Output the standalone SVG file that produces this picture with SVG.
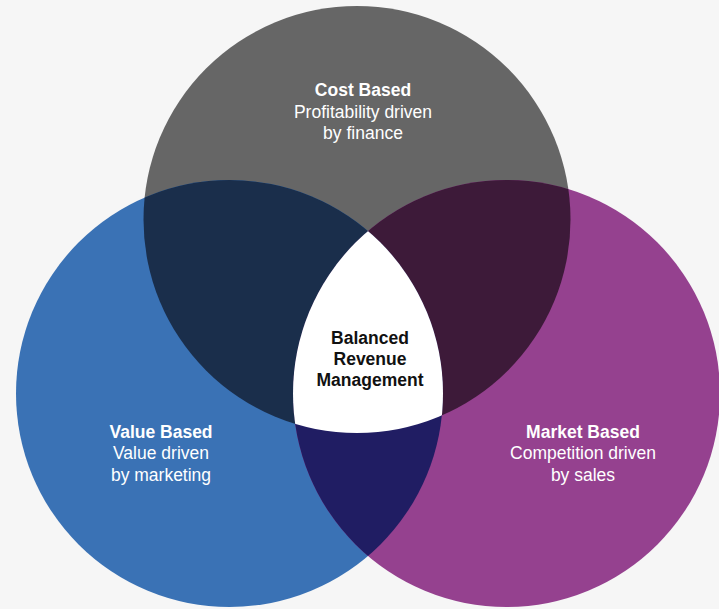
<svg xmlns="http://www.w3.org/2000/svg" width="719" height="609" viewBox="0 0 719 609">
  <defs>
    <clipPath id="clip-top"><circle cx="357" cy="219.5" r="213.5"/></clipPath>
    <clipPath id="clip-left"><circle cx="229.5" cy="393.5" r="213.5"/></clipPath>
    <clipPath id="clip-right"><circle cx="506.5" cy="393.5" r="213.5"/></clipPath>
    <style>
      .lbl { font-family: "Liberation Sans", Arial, Helvetica, sans-serif; font-size: 17.5px; text-anchor: middle; fill: #ffffff; }
      .title { font-weight: bold; }
      .centre { fill: #111111; font-weight: bold; }
    </style>
  </defs>

  <rect width="719" height="609" fill="#f6f6f6"/>

  <!-- Three main sets -->
  <g id="cost-based">
    <circle cx="357" cy="219.5" r="213.5" fill="#666666"/>
  </g>
  <g id="value-based">
    <circle cx="229.5" cy="393.5" r="213.5" fill="#3a72b5"/>
  </g>
  <g id="market-based">
    <circle cx="506.5" cy="393.5" r="213.5" fill="#95418f"/>
  </g>

  <!-- Pairwise overlaps -->
  <g id="overlaps">
    <circle cx="229.5" cy="393.5" r="213.5" fill="#1a2e4b" clip-path="url(#clip-top)"/>
    <circle cx="506.5" cy="393.5" r="213.5" fill="#3d1a39" clip-path="url(#clip-top)"/>
    <circle cx="506.5" cy="393.5" r="213.5" fill="#201d63" clip-path="url(#clip-left)"/>
  </g>

  <!-- Triple overlap -->
  <g id="balanced" clip-path="url(#clip-top)">
    <circle cx="506.5" cy="393.5" r="213.5" fill="#ffffff" clip-path="url(#clip-left)"/>
  </g>

  <!-- Labels -->
  <g id="cost-label" class="lbl">
    <text class="lbl title" x="363" y="96">Cost Based</text>
    <text class="lbl" x="363" y="117.5">Profitability driven</text>
    <text class="lbl" x="363" y="139">by finance</text>
  </g>
  <g id="balanced-label">
    <text class="lbl centre" x="370" y="343.5">Balanced</text>
    <text class="lbl centre" x="370" y="364.5">Revenue</text>
    <text class="lbl centre" x="370" y="385.5">Management</text>
  </g>
  <g id="value-label">
    <text class="lbl title" x="161" y="437.5">Value Based</text>
    <text class="lbl" x="161" y="459">Value driven</text>
    <text class="lbl" x="161" y="480.5">by marketing</text>
  </g>
  <g id="market-label">
    <text class="lbl title" x="583" y="437.5">Market Based</text>
    <text class="lbl" x="583" y="459">Competition driven</text>
    <text class="lbl" x="583" y="480.5">by sales</text>
  </g>
</svg>
